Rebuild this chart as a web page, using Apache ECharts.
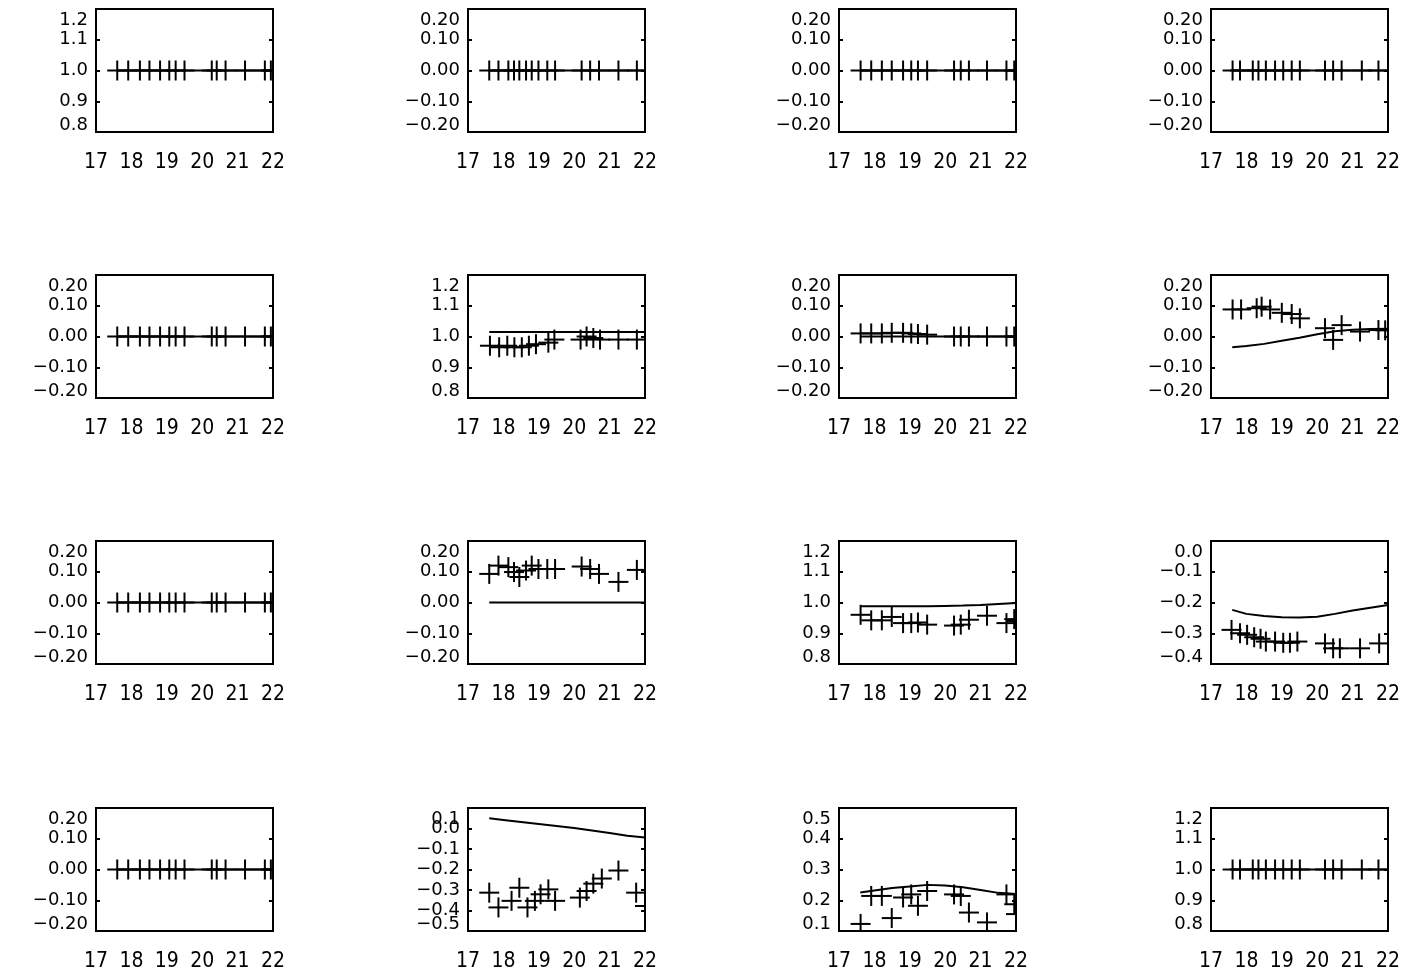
<!DOCTYPE html>
<html>
<head>
<meta charset="utf-8">
<script src="https://cdn.jsdelivr.net/npm/echarts@6/dist/echarts.min.js"></script>
<style>
  html, body { margin: 0; padding: 0; background: #fff; }
  #chart { width: 1414px; height: 973px; }
</style>
</head>
<body>
<div id="chart"></div>
<script>
// Hour axis (UT) shared by every panel
const hourTicks = [17, 18, 19, 20, 21, 22];

// Observation times per panel group
const hoursCol1 = [17.60, 17.91, 18.24, 18.51, 18.81, 19.07, 19.25, 19.50, 20.27, 20.41, 20.66, 21.21, 21.77, 21.94, 22.00];
const hoursCol2 = [17.60, 17.86, 18.14, 18.30, 18.45, 18.64, 18.80, 18.99, 19.24, 19.46, 20.21, 20.45, 20.70, 21.25, 21.77];
const hoursCol3 = [17.61, 17.91, 18.21, 18.49, 18.81, 19.04, 19.23, 19.49, 20.25, 20.44, 20.67, 21.18, 21.73, 21.95, 22.00];
const hoursCol4 = [17.61, 17.82, 18.18, 18.34, 18.55, 18.81, 19.04, 19.28, 19.51, 20.22, 20.45, 20.69, 21.26, 21.73];
const hoursR2C2 = [17.62, 17.88, 18.11, 18.31, 18.52, 18.72, 18.92, 19.27, 19.44, 20.18, 20.35, 20.54, 20.73, 21.25, 21.77];
const hoursR2C4 = [17.61, 17.85, 18.29, 18.43, 18.67, 19.00, 19.28, 19.51, 20.22, 20.45, 20.69, 21.21, 21.73, 21.92];
const hoursR3C4 = [17.58, 17.82, 18.02, 18.22, 18.40, 18.55, 18.81, 19.04, 19.23, 19.44, 20.22, 20.45, 20.64, 21.21, 21.75];
const hoursR4C2 = [17.60, 17.86, 18.23, 18.45, 18.68, 18.89, 19.05, 19.27, 19.46, 20.16, 20.35, 20.54, 20.78, 21.25, 21.75, 22.00];

// Measured values (+ markers)
const valuesR1C1 = [1.00, 1.00, 1.00, 1.00, 1.00, 1.00, 1.00, 1.00, 1.00, 1.00, 1.00, 1.00, 1.00, 1.00, 1.00];
const valuesR1C2 = [0.00, 0.00, 0.00, 0.00, 0.00, 0.00, 0.00, 0.00, 0.00, 0.00, 0.00, 0.00, 0.00, 0.00, 0.00];
const valuesR1C3 = [0.00, 0.00, 0.00, 0.00, 0.00, 0.00, 0.00, 0.00, 0.00, 0.00, 0.00, 0.00, 0.00, 0.00, 0.00];
const valuesR1C4 = [0.00, 0.00, 0.00, 0.00, 0.00, 0.00, 0.00, 0.00, 0.00, 0.00, 0.00, 0.00, 0.00, 0.00];
const valuesR2C1 = [0.00, 0.00, 0.00, 0.00, 0.00, 0.00, 0.00, 0.00, 0.00, 0.00, 0.00, 0.00, 0.00, 0.00, 0.00];
const valuesR2C2 = [0.970, 0.965, 0.970, 0.965, 0.965, 0.970, 0.975, 0.980, 0.990, 0.990, 1.000, 0.995, 0.990, 0.990, 0.990];
const valuesR2C3 = [0.010, 0.010, 0.010, 0.012, 0.012, 0.010, 0.008, 0.006, 0.000, 0.000, 0.000, 0.000, 0.000, 0.000, 0.000];
const valuesR2C4 = [0.088, 0.088, 0.092, 0.097, 0.088, 0.077, 0.073, 0.059, 0.027, -0.011, 0.037, 0.016, 0.021, 0.020];
const valuesR3C1 = [0.00, 0.00, 0.00, 0.00, 0.00, 0.00, 0.00, 0.00, 0.00, 0.00, 0.00, 0.00, 0.00, 0.00, 0.00];
const valuesR3C2 = [0.093, 0.120, 0.115, 0.099, 0.083, 0.104, 0.120, 0.109, 0.109, 0.109, 0.117, 0.109, 0.093, 0.067, 0.106];
const valuesR3C3 = [0.960, 0.942, 0.942, 0.953, 0.933, 0.933, 0.935, 0.928, 0.925, 0.928, 0.944, 0.957, 0.933, 0.946, 0.940];
const valuesR3C4 = [-0.289, -0.300, -0.305, -0.313, -0.318, -0.327, -0.327, -0.331, -0.331, -0.327, -0.333, -0.349, -0.349, -0.349, -0.333];
const valuesR4C1 = [0.00, 0.00, 0.00, 0.00, 0.00, 0.00, 0.00, 0.00, 0.00, 0.00, 0.00, 0.00, 0.00, 0.00, 0.00];
const valuesR4C2 = [-0.313, -0.385, -0.353, -0.289, -0.385, -0.353, -0.321, -0.297, -0.353, -0.337, -0.305, -0.269, -0.244, -0.205, -0.313, -0.378];
const valuesR4C3 = [0.123, 0.214, 0.214, 0.142, 0.209, 0.219, 0.182, 0.230, 0.219, 0.214, 0.160, 0.128, 0.219, 0.187, 0.155];
const valuesR4C4 = [1.00, 1.00, 1.00, 1.00, 1.00, 1.00, 1.00, 1.00, 1.00, 1.00, 1.00, 1.00, 1.00, 1.00];

// Model curves, sampled on a common hour grid
const modelHours = [17.6, 18.0, 18.5, 19.0, 19.5, 20.0, 20.5, 21.0, 21.5, 22.0];
const modelOne   = [1.000, 1.000, 1.000, 1.000, 1.000, 1.000, 1.000, 1.000, 1.000, 1.000];
const modelZero  = [0.000, 0.000, 0.000, 0.000, 0.000, 0.000, 0.000, 0.000, 0.000, 0.000];
const modelR2C2  = [1.015, 1.015, 1.015, 1.015, 1.015, 1.015, 1.015, 1.015, 1.015, 1.015];
const modelR2C4  = [-0.035, -0.031, -0.024, -0.014, -0.004, 0.007, 0.017, 0.022, 0.024, 0.025];
const modelR3C3  = [0.988, 0.988, 0.988, 0.988, 0.988, 0.989, 0.990, 0.992, 0.995, 0.998];
const modelR3C4  = [-0.224, -0.237, -0.244, -0.248, -0.249, -0.246, -0.237, -0.226, -0.217, -0.208];
const modelR4C2  = [0.050, 0.042, 0.032, 0.022, 0.012, 0.002, -0.010, -0.022, -0.035, -0.044];
const modelR4C3  = [0.225, 0.232, 0.240, 0.245, 0.250, 0.248, 0.242, 0.233, 0.224, 0.220];

// Y ranges: [min, max, step, decimals]
const rangeUnity = [0.8, 1.2, 0.1, 1];
const rangeSmall = [-0.2, 0.2, 0.1, 2];
const rangeR3C4  = [-0.4, 0.0, 0.1, 1];
const rangeR4C2  = [-0.5, 0.1, 0.1, 1];
const rangeR4C3  = [0.1, 0.5, 0.1, 1];

// Panels in reading order (row by row)
const panels = [
  [hoursCol1, valuesR1C1, modelOne,  rangeUnity],
  [hoursCol2, valuesR1C2, modelZero, rangeSmall],
  [hoursCol3, valuesR1C3, modelZero, rangeSmall],
  [hoursCol4, valuesR1C4, modelZero, rangeSmall],
  [hoursCol1, valuesR2C1, modelZero, rangeSmall],
  [hoursR2C2, valuesR2C2, modelR2C2, rangeUnity],
  [hoursCol3, valuesR2C3, modelZero, rangeSmall],
  [hoursR2C4, valuesR2C4, modelR2C4, rangeSmall],
  [hoursCol1, valuesR3C1, modelZero, rangeSmall],
  [hoursCol2, valuesR3C2, modelZero, rangeSmall],
  [hoursCol3, valuesR3C3, modelR3C3, rangeUnity],
  [hoursR3C4, valuesR3C4, modelR3C4, rangeR3C4],
  [hoursCol1, valuesR4C1, modelZero, rangeSmall],
  [hoursR4C2, valuesR4C2, modelR4C2, rangeR4C2],
  [hoursCol3, valuesR4C3, modelR4C3, rangeR4C3],
  [hoursCol4, valuesR4C4, modelOne,  rangeUnity]
];

// Layout of the 4x4 grid of plot boxes
const colLeft = [96, 468, 839, 1211];
const rowTop = [9, 275, 541, 808];
const boxW = 177;
const boxH = 123;

const yFont = 'DejaVu Sans';
const xFont = '"Liberation Sans Narrow", "DejaVu Sans Condensed", "Liberation Sans", sans-serif';
const yFontSize = 18;

function fmt(v, dec) {
  const s = Math.abs(v) < 1e-9 ? (0).toFixed(dec) : v.toFixed(dec);
  return s.replace('-', '\u2212');
}

// Interior tick labels (the end labels are drawn by a companion axis)
function innerFormatter(dec) {
  return function (v) { return fmt(v, dec); };
}

// End labels, pulled inside the box height like the classic plot style
function endFormatter(lo, hi, dec) {
  return function (v) {
    if (Math.abs(v - hi) < 1e-6) return '{hi|' + fmt(v, dec) + '}';
    if (Math.abs(v - lo) < 1e-6) return '{lo|' + fmt(v, dec) + '}';
    return '';
  };
}

// '+' marker drawn through the axis scales
function renderPlus(params, api) {
  const pt = api.coord([api.value(0), api.value(1)]);
  const st = { stroke: '#000', lineWidth: 2, fill: null };
  return {
    type: 'group',
    children: [
      { type: 'line', shape: { x1: pt[0] - 10, y1: pt[1], x2: pt[0] + 10, y2: pt[1] }, style: st },
      { type: 'line', shape: { x1: pt[0], y1: pt[1] - 10, x2: pt[0], y2: pt[1] + 10 }, style: st }
    ]
  };
}

const grid = [], xAxis = [], yAxis = [], series = [];
const tickStyle = { show: true, inside: true, length: 4, lineStyle: { color: '#000', width: 2 } };

panels.forEach(function (p, i) {
  const hours = p[0], values = p[1], model = p[2], range = p[3];
  const r = Math.floor(i / 4), c = i % 4;
  grid.push({
    left: colLeft[c], top: rowTop[r], width: boxW, height: boxH,
    containLabel: false, outerBoundsMode: 'none',
    show: true, borderColor: '#000', borderWidth: 2, backgroundColor: 'transparent'
  });
  xAxis.push({
    type: 'value', gridIndex: i,
    min: hourTicks[0], max: hourTicks[hourTicks.length - 1], interval: 1,
    axisLine: { show: false }, axisTick: { show: false }, splitLine: { show: false },
    axisLabel: {
      color: '#000', fontFamily: xFont, fontSize: 21, margin: 20,
      showMinLabel: true, showMaxLabel: true
    }
  });
  const scale = { min: range[0], max: range[1], interval: range[2] };
  // left axis: interior labels + ticks
  yAxis.push(Object.assign({
    type: 'value', gridIndex: i, position: 'left',
    axisLine: { show: false }, splitLine: { show: false }, axisTick: tickStyle,
    axisLabel: {
      color: '#000', fontFamily: yFont, fontSize: yFontSize, margin: 8,
      showMinLabel: false, showMaxLabel: false,
      formatter: innerFormatter(range[3])
    }
  }, scale));
  // left axis: end labels only
  yAxis.push(Object.assign({
    type: 'value', gridIndex: i, position: 'left',
    axisLine: { show: false }, splitLine: { show: false }, axisTick: { show: false },
    axisLabel: {
      color: '#000', fontFamily: yFont, fontSize: yFontSize, margin: 8,
      showMinLabel: true, showMaxLabel: true,
      formatter: endFormatter(range[0], range[1], range[3]),
      rich: {
        hi: { padding: [22, 0, 0, 0], fontFamily: yFont, fontSize: yFontSize, color: '#000' },
        lo: { padding: [0, 0, 14, 0], fontFamily: yFont, fontSize: yFontSize, color: '#000' }
      }
    }
  }, scale));
  // right axis: ticks only
  yAxis.push(Object.assign({
    type: 'value', gridIndex: i, position: 'right',
    axisLine: { show: false }, splitLine: { show: false }, axisTick: tickStyle,
    axisLabel: { show: false }
  }, scale));
  series.push({
    type: 'line', xAxisIndex: i, yAxisIndex: 3 * i,
    data: modelHours.map(function (h, k) { return [h, model[k]]; }),
    symbol: 'none', showSymbol: false, clip: true,
    lineStyle: { color: '#000', width: 2 },
    silent: true, animation: false
  });
  series.push({
    type: 'custom', xAxisIndex: i, yAxisIndex: 3 * i, clip: true,
    data: hours.map(function (h, k) { return [h, values[k]]; }),
    renderItem: renderPlus,
    silent: true, animation: false
  });
});

const chart = echarts.init(document.getElementById('chart'), null, { renderer: 'canvas' });
chart.setOption({
  backgroundColor: '#fff',
  animation: false,
  grid: grid,
  xAxis: xAxis,
  yAxis: yAxis,
  series: series
});
</script>
</body>
</html>
